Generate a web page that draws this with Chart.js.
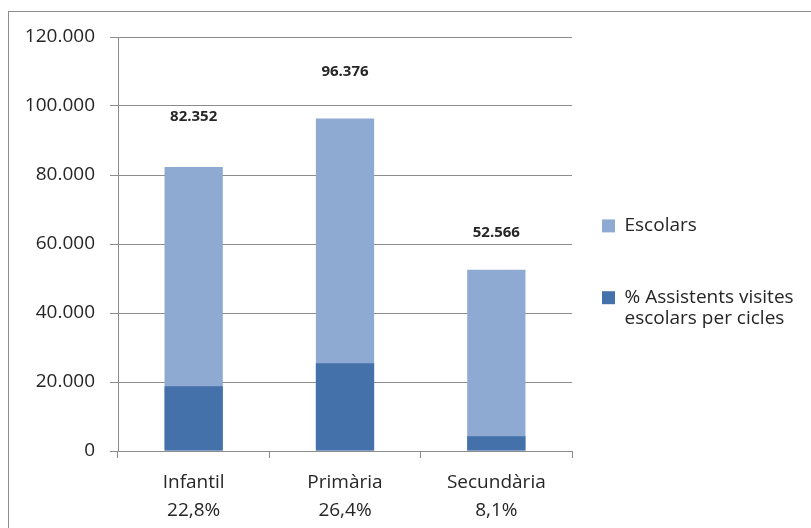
<!DOCTYPE html>
<html>
<head>
<meta charset="utf-8">
<script src="https://cdn.jsdelivr.net/npm/chart.js@4"></script>
<style>
  body { margin: 0; background: #fff; overflow: hidden; }
  #frame { position: absolute; left: 8px; top: 11px; width: 900px; height: 600px; border: 1px solid #8c8c8c; }
  #wrap { position: absolute; left: 0; top: 0; width: 811px; height: 528px; }
</style>
</head>
<body>
<div id="frame"></div>
<div id="wrap"><canvas id="myChart" width="811" height="528"></canvas></div>
<script>
const cicles = ["Infantil", "Primària", "Secundària"];
const percentLabels = ["22,8%", "26,4%", "8,1%"];
const escolars = [82352, 96376, 52566];
const assistents = [18800, 25400, 4300];
const yTicks = [0, 20000, 40000, 60000, 80000, 100000, 120000];

const textColor = "#262626";
const gridColor = "#8c8c8c";

// format amb punt de milers
const thousands = (number) => {
  return number.toString().replace(/(\d)(?=(\d{3})+(?!\d))/g, "$1.");
};

const valueLabels = {
  id: "valueLabels",
  afterDatasetsDraw(chart, args, opts) {
    const ctx = chart.ctx;
    const meta = chart.getDatasetMeta(0);
    ctx.save();
    ctx.font = "bold 15px 'Open Sans'";
    ctx.fillStyle = textColor;
    ctx.textAlign = "center";
    ctx.textBaseline = "middle";
    meta.data.forEach((bar, i) => {
      ctx.fillText(thousands(escolars[i]), bar.x, bar.y - opts.offsets[i]);
    });
    ctx.restore();
  },
};

const labels = cicles.map((c, i) => [c, percentLabels[i]]);

const config = {
  type: "bar",
  data: {
    labels,
    datasets: [
      {
        label: ["Escolars", ""],
        data: escolars,
        backgroundColor: "#8faad2",
        order: 2,
      },
      {
        label: ["% Assistents visites", "escolars per cicles"],
        data: assistents,
        backgroundColor: "#4471aa",
        order: 1,
      },
    ],
  },
  options: {
    responsive: false,
    animation: false,
    layout: { padding: { top: 37, left: 0, right: 8, bottom: 0 } },
    datasets: { bar: { categoryPercentage: 1, barPercentage: 0.385 } },
    plugins: {
      tooltip: { enabled: false },
      valueLabels: { offsets: [50, 47, 37] },
      legend: {
        position: "right",
        align: "start",
        maxWidth: 231,
        // títol buit: només per baixar la llegenda
        title: { display: true, text: "", font: { size: 12 }, padding: { top: 135, bottom: 0 } },
        labels: {
          color: textColor,
          font: { family: "'Open Sans'", size: 19, lineHeight: 1.1 },
          boxWidth: 13,
          boxHeight: 13,
          padding: 30,
          sort: (a, b) => a.datasetIndex - b.datasetIndex,
        },
      },
    },
    scales: {
      x: {
        stacked: true,
        grid: { display: true, drawOnChartArea: false, drawTicks: true, tickLength: 7, color: gridColor, offset: true },
        border: { color: gridColor },
        ticks: { color: textColor, font: { family: "'Open Sans'", size: 19, lineHeight: 1.45 }, padding: 11 },
        afterFit: (scale) => { scale.height = 77; },
      },
      y: {
        stacked: false,
        min: 0,
        max: 120000,
        afterBuildTicks: (scale) => { scale.ticks = yTicks.map((v) => ({ value: v })); },
        grid: { color: gridColor, tickLength: 8 },
        border: { color: gridColor },
        ticks: {
          color: textColor,
          font: { family: "'Open Sans'", size: 19 },
          padding: 15,
          callback: (v) => thousands(v),
        },
        afterFit: (scale) => { scale.width = 118; },
      },
    },
  },
  plugins: [valueLabels],
};

new Chart(document.getElementById("myChart"), config);
</script>
</body>
</html>
